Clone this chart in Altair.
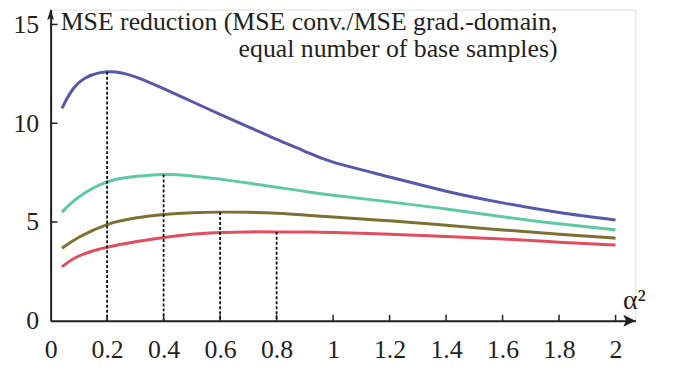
import altair as alt
import pandas as pd

# ---- data ----
alpha2 = [0.04, 0.1, 0.2, 0.3, 0.4, 0.5, 0.6, 0.7, 0.8, 0.9, 1.0, 1.2, 1.4, 1.6, 1.8, 2.0]
blue   = [10.75, 12.05, 12.6, 12.35, 11.75, 11.1, 10.45, 9.82, 9.18, 8.58, 8.03, 7.28, 6.56, 5.97, 5.48, 5.1]
green  = [5.5, 6.27, 7.03, 7.3, 7.4, 7.33, 7.17, 6.97, 6.76, 6.55, 6.35, 6.02, 5.66, 5.27, 4.91, 4.6]
olive  = [3.67, 4.23, 4.87, 5.2, 5.38, 5.47, 5.5, 5.49, 5.44, 5.35, 5.25, 5.06, 4.84, 4.6, 4.38, 4.18]
red    = [2.73, 3.28, 3.72, 4.0, 4.22, 4.38, 4.47, 4.5, 4.5, 4.49, 4.47, 4.38, 4.27, 4.14, 3.98, 3.83]

series_names = ["s1", "s2", "s3", "s4"]
series_vals = [blue, green, olive, red]
series_colors = ["#5757AB", "#5EC9A2", "#7C7133", "#E04F5D"]

peak_x = [0.2, 0.4, 0.6, 0.8]
peak_y = [12.6, 7.4, 5.5, 4.5]

x_ticks = [0, 0.2, 0.4, 0.6, 0.8, 1, 1.2, 1.4, 1.6, 1.8, 2]
y_ticks = [0, 5, 10, 15]

y_title = ["MSE reduction (MSE conv./MSE grad.-domain,", "equal number of base samples)"]
x_title = "α²"

rows = []
for name, vals in zip(series_names, series_vals):
    for xv, yv in zip(alpha2, vals):
        rows.append({"x": xv, "y": yv, "s": name})
df = pd.DataFrame(rows)
peaks = pd.DataFrame({"x": peak_x, "y": peak_y})
xt = pd.DataFrame({"x": [v for v in x_ticks if v > 0]})
yt = pd.DataFrame({"y": [v for v in y_ticks if v > 0]})

W, H = 590, 314
FONT = "Liberation Serif"
INK = "#231f20"

xscale = alt.Scale(domain=[0, 2.07], nice=False, zero=False)
yscale = alt.Scale(domain=[0, 15.75], nice=False, zero=False)

xaxis = alt.Axis(values=x_ticks, format=".1~f", tickSize=0, grid=False, domainColor=INK,
                 domainWidth=2, labelFont=FONT, labelFontSize=26, labelColor=INK,
                 labelPadding=16, labelFlush=False, title=x_title, titleFont=FONT,
                 titleFontSize=28, titleFontWeight="normal", titleColor=INK,
                 titleAngle=0, titleAlign="left", titleBaseline="alphabetic",
                 titleX=577, titleY=-12)
yaxis = alt.Axis(values=y_ticks, tickSize=0, grid=False, domainColor=INK,
                 domainWidth=2, labelFont=FONT, labelFontSize=26, labelColor=INK,
                 labelPadding=12, labelFlush=False, title=y_title, titleFont=FONT,
                 titleFontSize=26, titleFontWeight="normal", titleColor=INK,
                 titleAngle=0, titleAlign="right", titleBaseline="alphabetic",
                 titleX=511, titleY=20, titleLineHeight=27)

dotted = alt.Chart(peaks).mark_rule(color="black", strokeWidth=1.7, strokeDash=[3, 2]).encode(
    x=alt.X("x:Q", scale=xscale, axis=xaxis),
    y=alt.Y("y:Q", scale=yscale, axis=yaxis),
    y2=alt.datum(0),
)

lines = alt.Chart(df).mark_line(strokeWidth=3, interpolate="natural").encode(
    x=alt.X("x:Q", scale=xscale),
    y=alt.Y("y:Q", scale=yscale),
    color=alt.Color("s:N", scale=alt.Scale(domain=series_names, range=series_colors), legend=None),
)

xticks = alt.Chart(xt).mark_rule(color=INK, strokeWidth=1.5).encode(
    x=alt.X("x:Q", scale=xscale),
    y=alt.value(H),
    y2=alt.value(H - 6),
)
yticks = alt.Chart(yt).mark_rule(color=INK, strokeWidth=1.5).encode(
    y=alt.Y("y:Q", scale=yscale),
    x=alt.value(0),
    x2=alt.value(7),
)

arrow_df = pd.DataFrame({"a": [0]})
x_arrow = alt.Chart(arrow_df).mark_point(
    shape="M-1,-1 L1,0 L-1,1 L-0.55,0 Z", filled=True, color=INK, size=150, opacity=1
).encode(x=alt.value(W - 6), y=alt.value(H))
y_arrow = alt.Chart(arrow_df).mark_point(
    shape="M0,-1 L0.6,1 L0,0.55 L-0.6,1 Z", filled=True, color=INK, size=130, opacity=1
).encode(x=alt.value(0), y=alt.value(5))

chart = alt.layer(lines, dotted, xticks, yticks, x_arrow, y_arrow).properties(
    width=W, height=H,
    autosize=alt.AutoSizeParams(type="none"),
    padding={"left": 43, "top": 0, "right": 38, "bottom": 46},
).configure_view(stroke=None).configure(background="white")

chart.save("out.html", embed_options={"renderer": "svg", "actions": False})
